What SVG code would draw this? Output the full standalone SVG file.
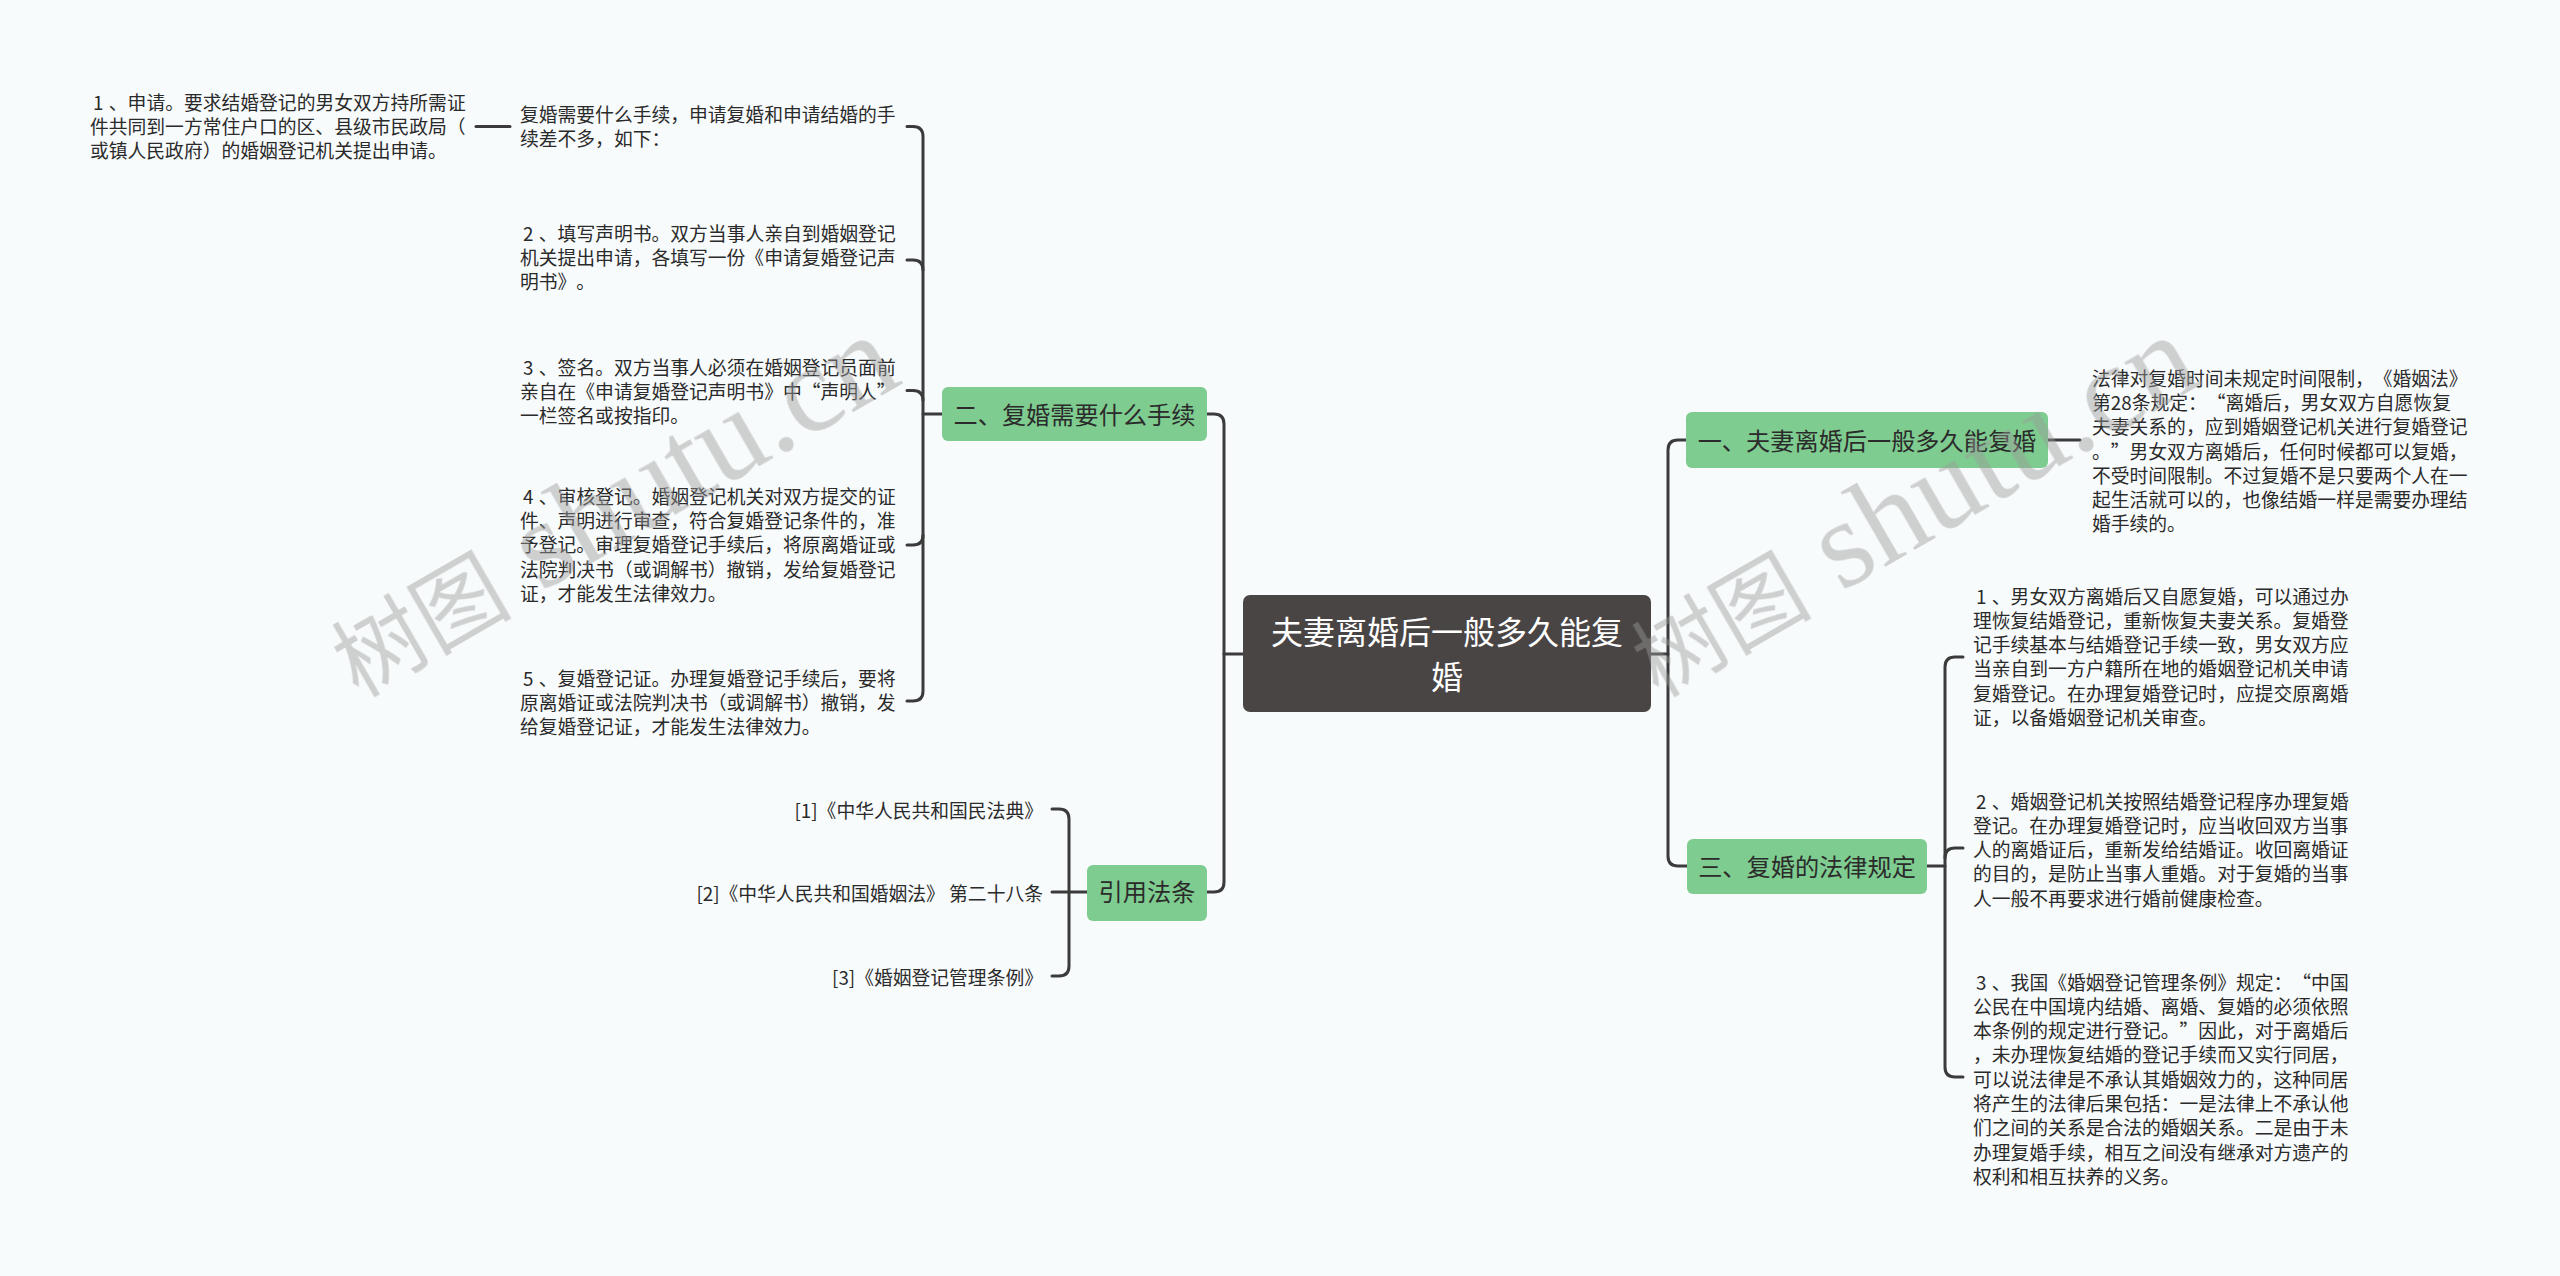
<svg xmlns="http://www.w3.org/2000/svg" width="2560" height="1276" viewBox="0 0 2560 1276">
<style>
text{text-spacing-trim:space-all;font-feature-settings:"chws" 0,"halt" 0}
.bg{fill:#f8fbfc}
.conn{fill:none;stroke:#3b3b3b;stroke-width:3;stroke-linecap:round;stroke-linejoin:round}
.leaf{font-family:"Noto Sans CJK SC","Noto Sans",sans-serif;font-size:18.8px;fill:#2a2a2a}
.end{text-anchor:end}
.br rect{fill:#7fcc90}
.br text{font-family:"Noto Sans CJK SC","Noto Sans",sans-serif;font-size:24.2px;fill:#2b2b2b;text-anchor:middle}
.root rect{fill:#4a4545}
.root text{font-family:"Noto Sans CJK SC","Noto Sans",sans-serif;font-size:32px;fill:#ffffff;text-anchor:middle}
.wm{font-family:"Noto Sans CJK SC",sans-serif;fill:#9a9a9a;opacity:0.45}
.wm .lat{font-family:"Liberation Serif",serif;font-size:125px}
</style>
<rect class="bg" x="0" y="0" width="2560" height="1276"/>

<g id="connectors">
  <path class="conn" d="M1243,654 H1224"/>
  <path class="conn" d="M1207,414 H1214 Q1224,414 1224,424 V882 Q1224,892 1214,892 H1207"/>
  <path class="conn" d="M1651,654 H1668"/>
  <path class="conn" d="M1686,440 H1678 Q1668,440 1668,450 V856 Q1668,866 1678,866 H1687"/>
  <path class="conn" d="M942,414 H923"/>
  <path class="conn" d="M907,126.5 H913 Q923,126.5 923,136.5 V691 Q923,701 913,701 H907"/>
  <path class="conn" d="M907,260 H913 Q923,260 923,270"/>
  <path class="conn" d="M907,390.6 H913 Q923,390.6 923,400.6"/>
  <path class="conn" d="M907,545 H913 Q923,545 923,535"/>
  <path class="conn" d="M476,126.5 H510"/>
  <path class="conn" d="M1087,892 H1052"/>
  <path class="conn" d="M1052,809 H1059 Q1069,809 1069,819 V966 Q1069,976 1059,976 H1052"/>
  <path class="conn" d="M2048,440 H2080"/>
  <path class="conn" d="M1927,866 H1945"/>
  <path class="conn" d="M1963,657 H1955 Q1945,657 1945,667 V1067 Q1945,1077 1955,1077 H1963"/>
  <path class="conn" d="M1963,848 H1955 Q1945,848 1945,858"/>
</g>

<g id="root" class="root">
  <rect x="1243" y="595" width="408" height="117" rx="7"/>
  <text x="1447" y="643.5">夫妻离婚后一般多久能复</text>
  <text x="1447" y="688.5">婚</text>
</g>

<g id="n2" class="br">
  <rect x="942" y="387" width="265" height="54" rx="6"/>
  <text x="1074.5" y="424">二、复婚需要什么手续</text>
</g>
<g id="ncite" class="br">
  <rect x="1087" y="865" width="120" height="56" rx="6"/>
  <text x="1147" y="901">引用法条</text>
</g>
<g id="n1" class="br">
  <rect x="1686" y="412" width="362" height="56" rx="6"/>
  <text x="1867" y="449.5">一、夫妻离婚后一般多久能复婚</text>
</g>
<g id="n3" class="br">
  <rect x="1687" y="839" width="240" height="55" rx="6"/>
  <text x="1807" y="875.5">三、复婚的法律规定</text>
</g>

<g id="leaf2-intro">
  <text class="leaf"><tspan x="520" y="121.8">复婚需要什么手续，申请复婚和申请结婚的手</tspan><tspan x="520" y="146">续差不多，如下：</tspan></text>
</g>
<g id="leaf2-intro-1">
  <text class="leaf"><tspan x="90" y="110" dx="3">1</tspan><tspan dx="5.4">、申请。要求结婚登记的男女双方持所需证</tspan><tspan x="90" y="134.2">件共同到一方常住户口的区、县级市民政局（</tspan><tspan x="90" y="158.4">或镇人民政府）的婚姻登记机关提出申请。</tspan></text>
</g>
<g id="leaf2-2">
  <text class="leaf"><tspan x="520" y="241" dx="3">2</tspan><tspan dx="5.4">、填写声明书。双方当事人亲自到婚姻登记</tspan><tspan x="520" y="265.2">机关提出申请，各填写一份《申请复婚登记声</tspan><tspan x="520" y="289.4">明书》。</tspan></text>
</g>
<g id="leaf2-3">
  <text class="leaf"><tspan x="520" y="374.5" dx="3">3</tspan><tspan dx="5.4">、签名。双方当事人必须在婚姻登记员面前</tspan><tspan x="520" y="398.7">亲自在《申请复婚登记声明书》中“声明人”</tspan><tspan x="520" y="422.9">一栏签名或按指印。</tspan></text>
</g>
<g id="leaf2-4">
  <text class="leaf"><tspan x="520" y="504" dx="3">4</tspan><tspan dx="5.4">、审核登记。婚姻登记机关对双方提交的证</tspan><tspan x="520" y="528.2">件、声明进行审查，符合复婚登记条件的，准</tspan><tspan x="520" y="552.4">予登记。审理复婚登记手续后，将原离婚证或</tspan><tspan x="520" y="576.6">法院判决书（或调解书）撤销，发给复婚登记</tspan><tspan x="520" y="600.8">证，才能发生法律效力。</tspan></text>
</g>
<g id="leaf2-5">
  <text class="leaf"><tspan x="520" y="686" dx="3">5</tspan><tspan dx="5.4">、复婚登记证。办理复婚登记手续后，要将</tspan><tspan x="520" y="710.2">原离婚证或法院判决书（或调解书）撤销，发</tspan><tspan x="520" y="734.4">给复婚登记证，才能发生法律效力。</tspan></text>
</g>

<g id="cite-1"><text class="leaf end" x="1043" y="817.5">[1]《中华人民共和国民法典》</text></g>
<g id="cite-2"><text class="leaf end" x="1043" y="901">[2]《中华人民共和国婚姻法》 第二十八条</text></g>
<g id="cite-3"><text class="leaf end" x="1043" y="984.5">[3]《婚姻登记管理条例》</text></g>

<g id="leaf1">
  <text class="leaf"><tspan x="2092" y="386">法律对复婚时间未规定时间限制，《婚姻法》</tspan><tspan x="2092" y="410.2">第28条规定：“离婚后，男女双方自愿恢复</tspan><tspan x="2092" y="434.4">夫妻关系的，应到婚姻登记机关进行复婚登记</tspan><tspan x="2092" y="458.6">。”男女双方离婚后，任何时候都可以复婚，</tspan><tspan x="2092" y="482.8">不受时间限制。不过复婚不是只要两个人在一</tspan><tspan x="2092" y="507">起生活就可以的，也像结婚一样是需要办理结</tspan><tspan x="2092" y="531.2">婚手续的。</tspan></text>
</g>

<g id="leaf3-1">
  <text class="leaf"><tspan x="1973" y="603.7" dx="3">1</tspan><tspan dx="5.4">、男女双方离婚后又自愿复婚，可以通过办</tspan><tspan x="1973" y="627.9">理恢复结婚登记，重新恢复夫妻关系。复婚登</tspan><tspan x="1973" y="652.1">记手续基本与结婚登记手续一致，男女双方应</tspan><tspan x="1973" y="676.3">当亲自到一方户籍所在地的婚姻登记机关申请</tspan><tspan x="1973" y="700.5">复婚登记。在办理复婚登记时，应提交原离婚</tspan><tspan x="1973" y="724.7">证，以备婚姻登记机关审查。</tspan></text>
</g>
<g id="leaf3-2">
  <text class="leaf"><tspan x="1973" y="808.7" dx="3">2</tspan><tspan dx="5.4">、婚姻登记机关按照结婚登记程序办理复婚</tspan><tspan x="1973" y="832.9">登记。在办理复婚登记时，应当收回双方当事</tspan><tspan x="1973" y="857.1">人的离婚证后，重新发给结婚证。收回离婚证</tspan><tspan x="1973" y="881.3">的目的，是防止当事人重婚。对于复婚的当事</tspan><tspan x="1973" y="905.5">人一般不再要求进行婚前健康检查。</tspan></text>
</g>
<g id="leaf3-3">
  <text class="leaf"><tspan x="1973" y="989.5" dx="3">3</tspan><tspan dx="5.4">、我国《婚姻登记管理条例》规定：“中国</tspan><tspan x="1973" y="1013.8">公民在中国境内结婚、离婚、复婚的必须依照</tspan><tspan x="1973" y="1038.1">本条例的规定进行登记。”因此，对于离婚后</tspan><tspan x="1973" y="1062.4">，未办理恢复结婚的登记手续而又实行同居，</tspan><tspan x="1973" y="1086.7">可以说法律是不承认其婚姻效力的，这种同居</tspan><tspan x="1973" y="1111">将产生的法律后果包括：一是法律上不承认他</tspan><tspan x="1973" y="1135.3">们之间的关系是合法的婚姻关系。二是由于未</tspan><tspan x="1973" y="1159.6">办理复婚手续，相互之间没有继承对方遗产的</tspan><tspan x="1973" y="1183.9">权利和相互扶养的义务。</tspan></text>
</g>

<g id="watermark" class="wm">
  <text transform="translate(358,698) rotate(-30)"><tspan font-size="90">树图</tspan><tspan class="lat"> shutu.cn</tspan></text>
  <text transform="translate(1658,698) rotate(-30)"><tspan font-size="90">树图</tspan><tspan class="lat"> shutu.cn</tspan></text>
</g>
</svg>
